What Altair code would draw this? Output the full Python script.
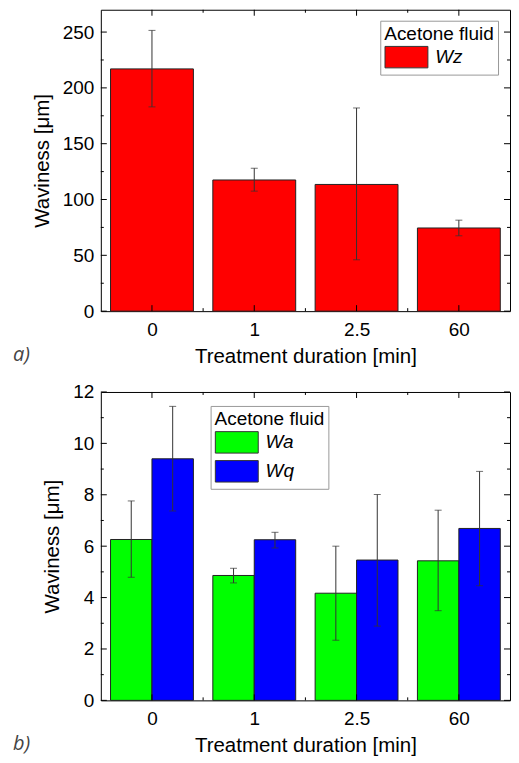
import altair as alt
import pandas as pd

# ---------------- data ----------------
durations = ["0", "1", "2.5", "60"]

wz = [217.0, 117.5, 113.5, 74.5]
wz_lo = [183.0, 107.5, 46.0, 67.5]
wz_hi = [251.5, 128.0, 182.0, 81.5]

wa = [6.26, 4.86, 4.17, 5.43]
wa_lo = [4.79, 4.57, 2.34, 3.49]
wa_hi = [7.76, 5.14, 6.00, 7.40]

wq = [9.40, 6.25, 5.46, 6.69]
wq_lo = [7.37, 5.93, 2.89, 4.46]
wq_hi = [11.44, 6.54, 8.01, 8.91]

top_y_major = [0, 50, 100, 150, 200, 250]
top_y_minor = [25, 75, 125, 175, 225]
bot_y_major = [0, 2, 4, 6, 8, 10, 12]
bot_y_minor = [1, 3, 5, 7, 9, 11]
x_major = [0, 1, 2, 3]
x_minor = [0.5, 1.5, 2.5]

FONT = "Liberation Sans"
HALF = 0.405
XSCALE = alt.Scale(domain=[-0.5, 3.5], nice=False, zero=False)
LABEL_EXPR = "[" + ",".join("'%s'" % d for d in durations) + "][datum.value]"


def x_axis():
    return alt.Axis(values=x_major, labelExpr=LABEL_EXPR, title="Treatment duration [min]",
                    ticks=False, domain=False, grid=False, labelFont=FONT, titleFont=FONT,
                    labelFontSize=19, titleFontSize=20.5, labelColor="black", titleColor="black",
                    titleFontWeight="normal", labelPadding=9, titlePadding=7)


def y_axis(values):
    return alt.Axis(values=values, title="Waviness [\u03bcm]", ticks=False, domain=False, grid=False,
                    labelFont=FONT, titleFont=FONT, labelFontSize=19, titleFontSize=20.5,
                    labelColor="black", titleColor="black", titleFontWeight="normal",
                    labelPadding=7, titlePadding=10)


def legend(x, y):
    # swatch 43 x 21.5 px: path spans -k..3k horizontally, k = sqrt(size)/2
    return alt.Legend(title="Acetone fluid", orient="none", legendX=x, legendY=y,
                      titleFont=FONT, titleFontSize=19, titleFontWeight="normal", titleColor="black",
                      labelFont=FONT, labelFontSize=19, labelFontStyle="italic", labelColor="black",
                      symbolType="M-1,-1H3V1H-1Z", symbolSize=462, symbolStrokeColor="#333",
                      symbolStrokeWidth=1, symbolOpacity=1, strokeColor="#999", fillColor="white",
                      padding=4, titlePadding=2, rowPadding=2, labelOffset=28, cornerRadius=0)


def tick_layers(width, height, yscale, yax, y_maj, y_min):
    layers = []
    for vals, ln in ((y_maj, 6), (y_min, 3)):
        base = alt.Chart(pd.DataFrame({"t": vals})).mark_rule(color="black", strokeWidth=1)
        yenc = alt.Y("t:Q", scale=yscale, axis=yax)
        layers.append(base.encode(y=yenc, x=alt.value(0), x2=alt.value(ln)))
        layers.append(base.encode(y=yenc, x=alt.value(width), x2=alt.value(width - ln)))
    for vals, ln in ((x_major, 6), (x_minor, 3)):
        base = alt.Chart(pd.DataFrame({"t": vals})).mark_rule(color="black", strokeWidth=1)
        xenc = alt.X("t:Q", scale=XSCALE, axis=x_axis())
        layers.append(base.encode(x=xenc, y=alt.value(0), y2=alt.value(ln)))
        layers.append(base.encode(x=xenc, y=alt.value(height), y2=alt.value(height - ln)))
    return layers


def panel(df, width, height, ydom, y_maj, y_min, series, colors, leg_xy, tag, tag_dx):
    yscale = alt.Scale(domain=ydom, nice=False, zero=True)
    yax = y_axis(y_maj)
    bars = alt.Chart(df).mark_bar(stroke="#222", strokeWidth=1).encode(
        x=alt.X("x0:Q", scale=XSCALE, axis=x_axis()),
        x2="x1:Q",
        y=alt.Y("v:Q", scale=yscale, axis=yax),
        y2=alt.datum(0),
        color=alt.Color("series:N", scale=alt.Scale(domain=series, range=colors),
                        legend=legend(*leg_xy)),
    )
    err = alt.Chart(df).mark_rule(color="#333", strokeWidth=1).encode(
        x=alt.X("xc:Q", scale=XSCALE, axis=x_axis()),
        y=alt.Y("lo:Q", scale=yscale, axis=yax),
        y2="hi:Q",
    )
    cap_lo = alt.Chart(df).mark_tick(orient="horizontal", size=7, thickness=1, color="#333").encode(
        x=alt.X("xc:Q", scale=XSCALE, axis=x_axis()),
        y=alt.Y("lo:Q", scale=yscale, axis=yax),
    )
    cap_hi = alt.Chart(df).mark_tick(orient="horizontal", size=7, thickness=1, color="#333").encode(
        x=alt.X("xc:Q", scale=XSCALE, axis=x_axis()),
        y=alt.Y("hi:Q", scale=yscale, axis=yax),
    )
    layers = [bars] + tick_layers(width, height, yscale, yax, y_maj, y_min) + [err, cap_lo, cap_hi]
    return alt.layer(*layers).properties(
        width=width, height=height,
        title=alt.TitleParams(text=tag, orient="bottom", anchor="start", frame="group",
                              dx=tag_dx, offset=-22, font="Open Sans", fontStyle="italic",
                              fontWeight="normal", fontSize=20, color="#444"),
    )


# top data
top_df = pd.DataFrame({"idx": list(range(len(durations))), "v": wz, "lo": wz_lo, "hi": wz_hi})
top_df["series"] = "Wz"
top_df["x0"] = top_df["idx"] - HALF
top_df["x1"] = top_df["idx"] + HALF
top_df["xc"] = top_df["idx"]

# bottom data
rows = []
for i in range(len(durations)):
    rows.append({"idx": i, "series": "Wa", "v": wa[i], "lo": wa_lo[i], "hi": wa_hi[i],
                 "x0": i - HALF, "x1": i, "xc": i - HALF / 2})
    rows.append({"idx": i, "series": "Wq", "v": wq[i], "lo": wq_lo[i], "hi": wq_hi[i],
                 "x0": i, "x1": i + HALF, "xc": i + HALF / 2})
bot_df = pd.DataFrame(rows)

top = panel(top_df, 410, 302, [0, 270], top_y_major, top_y_minor, ["Wz"], ["#ff0000"],
            (280, 11), "a)", -88)
bottom = panel(bot_df, 410, 309, [0, 12], bot_y_major, bot_y_minor, ["Wa", "Wq"],
               ["#00ff00", "#0000ff"], (110, 14), "b)", -88)

chart = alt.vconcat(top, bottom, spacing=15).resolve_scale(
    color="independent", x="independent", y="independent"
).properties(
    padding={"left": 4, "top": 0, "right": 0, "bottom": 0},
    background="white",
).configure_view(stroke="black", strokeWidth=1)

chart.save("out.html", embed_options={"renderer": "svg", "actions": False})
